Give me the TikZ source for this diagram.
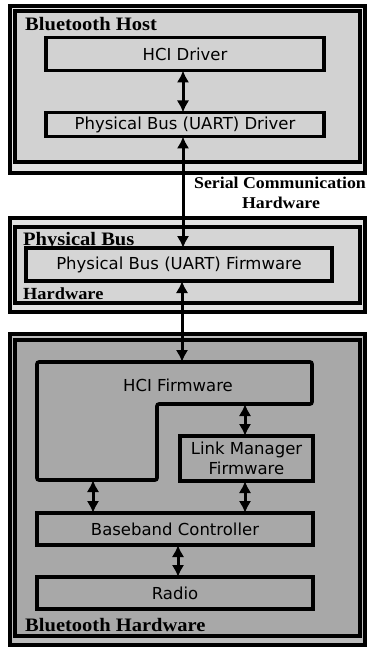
\documentclass[tikz,border=0pt]{standalone}
\usepackage{fontspec}
\setmainfont{Liberation Serif}
\newfontfamily\ttlf[FakeStretch=1.08]{Liberation Serif}
\newfontfamily\sansf{DejaVu Sans}
\usetikzlibrary{arrows.meta}
\definecolor{hostband}{HTML}{E4E4E4}
\definecolor{hostin}{HTML}{D2D2D2}
\definecolor{pbband}{HTML}{E2E2E2}
\definecolor{pbin}{HTML}{D5D5D5}
\definecolor{hwband}{HTML}{BCBCBC}
\definecolor{hwin}{HTML}{A8A8A8}
\tikzset{
  frameline/.style={draw=black, line width=4pt},
  blk/.style={draw=black, line width=3.6pt, inner sep=0pt, outer sep=0pt},
  blktext/.style={font=\sansf\fontsize{16.5}{19}\selectfont, align=center},
  ttl/.style={font=\ttlf\bfseries\fontsize{19}{21}\selectfont, anchor=base west, inner sep=0pt},
  ttlsmall/.style={font=\ttlf\bfseries\fontsize{17}{19}\selectfont, anchor=base west, inner sep=0pt},
  sertxt/.style={font=\ttlf\bfseries\fontsize{16.5}{19}\selectfont, anchor=base, inner sep=0pt},
  link/.style={line width=3pt, {Latex[length=12pt,width=12.5pt]}-{Latex[length=12pt,width=12.5pt]}}
}
\begin{document}
\begin{tikzpicture}[x=1pt,y=-1pt]
\useasboundingbox (0,0) rectangle (367,647);
\fill[white] (0,0) rectangle (367,647);

% ---------- Bluetooth Host ----------
\draw[frameline, fill=hostband] (10,6) rectangle (364.5,173);
\draw[frameline, fill=hostin] (15,11.5) rectangle (360,162);
\node[ttl] (hosttitle) at (25,31) {Bluetooth Host};
\node[blk, minimum width=278pt, minimum height=33pt, fill=hostin] (hcidrv) at (185,54) {};
\node[blktext] at (hcidrv.center) {HCI Driver};
\node[blk, minimum width=278pt, minimum height=24pt, fill=hostin] (pbdrv) at (185,124.5) {};
\node[blktext] at (pbdrv.center) {Physical Bus (UART) Driver};

% ---------- Serial Communication Hardware ----------
\node[sertxt] (ser1) at (280,189) {Serial Communication};
\node[sertxt] (ser2) at (281,208) {Hardware};

% ---------- Physical Bus Hardware ----------
\draw[frameline, fill=pbband] (10,218) rectangle (364.5,312);
\draw[frameline, fill=pbin] (15,227) rectangle (360,303);
\node[ttl] (pbtitle) at (23,245.5) {Physical Bus};
\node[ttlsmall] (pbtitle2) at (23,299) {Hardware};
\node[blk, minimum width=306pt, minimum height=33pt, fill=pbin] (pbfw) at (179,264.5) {};
\node[blktext] at (pbfw.center) {Physical Bus (UART) Firmware};

% ---------- Bluetooth Hardware ----------
\draw[frameline, fill=hwband] (10,334) rectangle (364.5,645);
\draw[frameline, fill=hwin] (15,340) rectangle (360,635.5);
\node[ttl] (hwtitle) at (25,631) {Bluetooth Hardware};

\draw[line width=3.6pt, rounded corners=2pt] (37,362) -- (312,362) -- (312,404) -- (157,404) -- (157,480) -- (37,480) -- cycle;
\coordinate (hcitop) at (182,362);
\coordinate (hcistep) at (245,404);
\coordinate (hcibot) at (93,480);
\node[blktext] (hcifw) at (178,385) {HCI Firmware};

\node[blk, minimum width=133pt, minimum height=45pt] (lm) at (246.5,458.5) {};
\node[blktext, font=\sansf\fontsize{16.5}{20}\selectfont] at (lm.center) {Link Manager\\Firmware};

\node[blk, minimum width=276pt, minimum height=32pt] (bb) at (175,529) {};
\node[blktext] at (bb.center) {Baseband Controller};
\node[blk, minimum width=276pt, minimum height=32pt] (radio) at (175,593) {};
\node[blktext] at (radio.center) {Radio};

% ---------- connectors ----------
\draw[link] (hcidrv.south -| 183,0) -- (pbdrv.north -| 183,0);
\draw[link] (pbdrv.south -| 183,0) -- (pbfw.north -| 183,0);
\draw[link] (pbfw.south -| 182,0) -- (hcitop);
\draw[link] (hcistep) -- (lm.north -| hcistep);
\draw[link] (hcibot) -- (bb.north -| hcibot);
\draw[link] (lm.south -| hcistep) -- (bb.north -| hcistep);
\draw[link] (bb.south -| 178,0) -- (radio.north -| 178,0);
\end{tikzpicture}
\end{document}
